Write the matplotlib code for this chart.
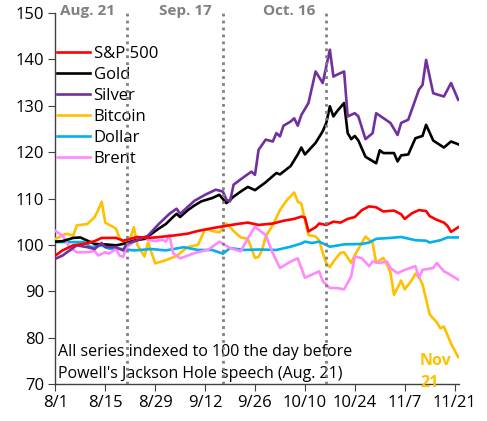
import pandas as pd
import matplotlib
matplotlib.use("Agg")
import matplotlib.pyplot as plt
import matplotlib.dates as mdates

plt.rcParams['font.family'] = ['Open Sans', 'DejaVu Sans']

start = pd.Timestamp("2025-08-01")

# day offsets from 8/1 and index values (100 = Aug. 21)
spx_days = [0, 2, 5, 8, 11, 13, 17, 19, 21, 23, 26, 28, 33, 37, 40, 44, 47, 51, 54, 57, 61, 64, 67,
            69, 70, 71, 73, 74, 76, 78, 80, 82, 84, 86, 88, 90, 92, 95, 97, 98, 100, 102, 104,
            105, 107, 109, 110, 111, 113]
spx = [97.7, 98.8, 99.9, 100.2, 100.8, 101.5, 101.5, 100.9, 101.3, 101.7, 101.5, 101.6, 102.0,
       102.4, 103.0, 103.6, 104.0, 104.5, 104.8, 104.3, 104.6, 105.2, 105.6, 106.1, 105.9, 102.9,
       103.8, 104.6, 104.3, 105.0, 104.8, 105.6, 106.0, 107.5, 108.3, 108.1, 107.2, 107.4, 106.6,
       105.6, 106.8, 107.5, 107.3, 106.2, 105.4, 104.8, 104.1, 102.8, 103.8]

gold_days = [0, 2, 5, 7, 9, 11, 14, 17, 19, 22, 25, 27, 29, 31, 33, 34, 35, 37, 39, 41, 44, 46,
             48, 50, 52, 54, 56, 59, 62, 63, 66, 68, 69, 70, 73, 75, 76, 77, 78, 79, 81, 82, 83,
             84, 85, 87, 90, 91, 92, 95, 96, 97, 99, 101, 103, 104, 106, 109, 111, 113]
gold = [100.7, 100.8, 101.5, 101.6, 100.9, 100.2, 100.1, 99.9, 100.2, 100.9, 101.3, 102.4, 103.5,
        104.5, 106.0, 106.7, 106.0, 107.4, 108.5, 109.4, 110.1, 110.8, 109.0, 110.4, 111.5, 112.5,
        111.8, 113.5, 115.5, 115.2, 117.0, 119.5, 121.0, 119.5, 122.0, 124.5, 126.3, 129.9, 127.7,
        128.8, 130.6, 124.1, 122.8, 123.5, 122.5, 119.0, 117.6, 120.4, 119.8, 119.8, 118.0, 119.3,
        119.5, 123.0, 123.5, 125.9, 122.5, 121.0, 122.3, 121.7]

silver_days = [0, 2, 4, 6, 9, 11, 13, 14, 17, 19, 20, 23, 26, 29, 32, 34, 35, 37, 39, 42, 45, 47,
               48, 49, 50, 53, 55, 56, 57, 59, 60, 61, 62, 63, 64, 66, 67, 68, 69, 71, 73, 75,
               77, 78, 79, 81, 82, 84, 85, 87, 89, 90, 94, 96, 97, 99, 102, 103, 104, 106, 109,
               111, 113]
silver = [97.0, 97.7, 98.8, 99.9, 99.5, 99.1, 100.4, 99.5, 99.5, 98.8, 100.2, 101.0, 102.0, 104.5,
          106.7, 107.8, 106.7, 108.1, 109.5, 110.8, 111.9, 111.5, 109.7, 109.4, 113.0, 114.7,
          115.8, 115.1, 120.5, 122.7, 122.5, 122.3, 124.1, 123.4, 125.7, 126.6, 127.3, 125.7,
          128.0, 130.6, 137.4, 134.9, 142.1, 136.3, 136.7, 137.4, 127.7, 128.4, 127.7, 122.8,
          124.1, 128.4, 126.3, 123.7, 126.3, 127.0, 133.5, 134.5, 139.9, 132.7, 132.0, 134.9,
          131.3]

btc_days = [0, 3, 5, 6, 9, 11, 12, 13, 14, 17, 18, 19, 21, 22, 23, 25, 26, 28, 31, 34, 37, 40,
            42, 44, 46, 48, 50, 52, 54, 56, 57, 58, 59, 61, 63, 65, 67, 68, 69, 70, 71, 73, 74,
            75, 76, 77, 78, 80, 81, 83, 84, 87, 89, 90, 92, 93, 94, 95, 97, 98, 100, 101, 102,
            103, 105, 107, 108, 109, 111, 113]
btc = [101.3, 102.4, 102.0, 104.2, 104.5, 106.0, 107.5, 109.3, 104.8, 103.5, 101.5, 100.6, 101.3,
       103.8, 100.0, 97.5, 100.5, 96.0, 96.7, 97.6, 99.5, 100.0, 103.4, 103.0, 102.7, 104.6,
       103.0, 101.6, 101.3, 97.2, 97.4, 98.9, 101.8, 104.3, 107.5, 109.7, 111.3, 109.3, 108.9,
       105.4, 102.1, 101.8, 101.0, 98.3, 96.0, 95.2, 96.4, 98.3, 98.4, 96.1, 97.8, 101.8, 100.4,
       96.1, 97.2, 95.8, 94.0, 89.2, 92.3, 90.4, 92.4, 93.8, 93.0, 91.5, 85.0, 83.3, 82.0, 82.4,
       78.7, 75.8]

dollar_days = [0, 8, 10, 13, 15, 19, 22, 27, 31, 36, 40, 44, 47, 49, 53, 57, 62, 66, 69, 70, 72,
               74, 77, 81, 86, 88, 90, 94, 97, 101, 104, 105, 108, 110, 113]
dollar = [100.6, 100.6, 99.5, 99.9, 99.2, 99.1, 98.8, 99.1, 98.8, 99.5, 98.9, 98.9, 98.1, 99.3,
          98.9, 99.0, 98.9, 99.6, 100.3, 100.7, 100.4, 100.7, 99.6, 100.1, 100.2, 100.5, 101.3,
          101.5, 101.7, 101.0, 100.9, 100.5, 101.0, 101.6, 101.6]

brent_days = [0, 2, 4, 6, 9, 11, 12, 14, 15, 17, 18, 19, 20, 23, 24, 26, 28, 30, 31, 32, 33, 35,
              39, 41, 43, 46, 49, 52, 54, 56, 59, 61, 63, 66, 68, 70, 72, 74, 75, 77, 79, 81, 83,
              84, 86, 88, 89, 91, 93, 94, 96, 98, 101, 102, 103, 106, 107, 109, 110, 113]
brent = [103.0, 102.0, 99.5, 98.4, 98.4, 98.7, 97.7, 98.4, 98.1, 99.1, 97.7, 97.4, 99.5, 101.2,
         101.5, 101.1, 100.8, 101.1, 100.7, 102.1, 98.2, 97.1, 98.2, 98.6, 99.0, 100.7, 99.3, 98.6,
         101.4, 103.9, 102.1, 98.2, 95.0, 96.4, 97.1, 92.9, 93.6, 94.3, 92.2, 90.7, 90.7, 90.4,
         93.2, 97.5, 97.1, 95.4, 96.4, 96.1, 96.4, 95.0, 93.9, 94.6, 95.4, 92.9, 94.6, 95.0, 96.1,
         94.3, 93.9, 92.5]

events = ["2025-08-21", "2025-09-17", "2025-10-16"]
event_labels = ["Aug. 21", "Sep. 17", "Oct. 16"]


def to_dates(days):
    return [start + pd.Timedelta(days=d) for d in days]


fig = plt.figure(figsize=(4.87, 4.21), dpi=100)
ax = fig.add_axes([0.113, 0.088, 0.83, 0.881])

lw = 1.9
ax.plot(to_dates(spx_days), spx, color="#FF0000", lw=lw, label="S&P 500", zorder=5)
ax.plot(to_dates(gold_days), gold, color="#000000", lw=lw, label="Gold", zorder=4)
ax.plot(to_dates(silver_days), silver, color="#7030A0", lw=lw, label="Silver", zorder=4)
ax.plot(to_dates(btc_days), btc, color="#FFC000", lw=lw, label="Bitcoin", zorder=3)
ax.plot(to_dates(dollar_days), dollar, color="#00B0F0", lw=lw, label="Dollar", zorder=3)
ax.plot(to_dates(brent_days), brent, color="#FF88FF", lw=lw, label="Brent", zorder=3)

for d, lab in zip(events, event_labels):
    d = pd.Timestamp(d)
    ax.axvline(d, color="#808080", lw=2, ls=(0, (1, 1.5)), zorder=6)
    ax.text(d - pd.Timedelta(days=3.2), 150.4, lab, ha="right", va="center",
            color="#808080", fontsize=11, fontweight="bold")

ax.set_ylim(70, 150)
ax.set_yticks(range(70, 151, 10))
ax.set_xlim(start - pd.Timedelta(days=0.1), start + pd.Timedelta(days=113.3))
ax.set_xticks(pd.date_range(start, periods=9, freq="14D"))
ax.xaxis.set_major_formatter(mdates.DateFormatter("%-m/%-d"))

for s in ["top", "right"]:
    ax.spines[s].set_visible(False)
for s in ["left", "bottom"]:
    ax.spines[s].set_color("#404040")
    ax.spines[s].set_linewidth(1)
ax.tick_params(axis="both", labelsize=12, length=5, color="#404040", pad=3)

ax.legend(loc="upper left", bbox_to_anchor=(-0.012, 0.93), frameon=False, fontsize=12,
          handlelength=2.0, handletextpad=0.2, labelspacing=0.3, borderaxespad=0)

ax.text(0.008, 0.004, "All series indexed to 100 the day before\nPowell's Jackson Hole speech (Aug. 21)",
        transform=ax.transAxes, fontsize=11.5, va="bottom", ha="left", linespacing=1.55)
ax.text(start + pd.Timedelta(days=102.3), 68.5, "Nov\n21", color="#FFC000", fontsize=11.5,
        fontweight="bold", ha="left", va="bottom", linespacing=1.5, zorder=7, clip_on=False)

fig.savefig("out.png", dpi=100)
